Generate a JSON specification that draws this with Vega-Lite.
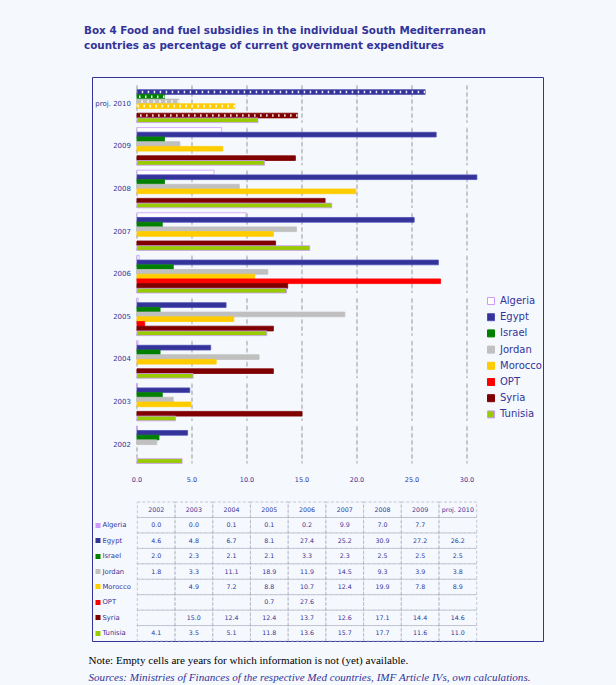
{
  "$schema": "https://vega.github.io/schema/vega-lite/v6.json",
  "width": 451,
  "height": 564,
  "autosize": {"type": "none"},
  "padding": {"left": 92, "top": 77, "right": 73, "bottom": 44},
  "background": "#F5F9FE",
  "title": {
    "text": ["Box 4 Food and fuel subsidies in the individual South Mediterranean", "countries as percentage of current government expenditures"],
    "anchor": "start",
    "dx": -4,
    "offset": 26,
    "font": "DejaVu Sans",
    "fontSize": 10.4,
    "fontWeight": "bold",
    "color": "#333399",
    "lineHeight": 14.5
  },
  "datasets": {
    "subs": [
      {"year": "2002", "country": "Algeria", "value": 0.0},
      {"year": "2002", "country": "Egypt", "value": 4.6},
      {"year": "2002", "country": "Israel", "value": 2.0},
      {"year": "2002", "country": "Jordan", "value": 1.8},
      {"year": "2002", "country": "Tunisia", "value": 4.1},
      {"year": "2003", "country": "Algeria", "value": 0.0},
      {"year": "2003", "country": "Egypt", "value": 4.8},
      {"year": "2003", "country": "Israel", "value": 2.3},
      {"year": "2003", "country": "Jordan", "value": 3.3},
      {"year": "2003", "country": "Morocco", "value": 4.9},
      {"year": "2003", "country": "Syria", "value": 15.0},
      {"year": "2003", "country": "Tunisia", "value": 3.5},
      {"year": "2004", "country": "Algeria", "value": 0.1},
      {"year": "2004", "country": "Egypt", "value": 6.7},
      {"year": "2004", "country": "Israel", "value": 2.1},
      {"year": "2004", "country": "Jordan", "value": 11.1},
      {"year": "2004", "country": "Morocco", "value": 7.2},
      {"year": "2004", "country": "Syria", "value": 12.4},
      {"year": "2004", "country": "Tunisia", "value": 5.1},
      {"year": "2005", "country": "Algeria", "value": 0.1},
      {"year": "2005", "country": "Egypt", "value": 8.1},
      {"year": "2005", "country": "Israel", "value": 2.1},
      {"year": "2005", "country": "Jordan", "value": 18.9},
      {"year": "2005", "country": "Morocco", "value": 8.8},
      {"year": "2005", "country": "OPT", "value": 0.7},
      {"year": "2005", "country": "Syria", "value": 12.4},
      {"year": "2005", "country": "Tunisia", "value": 11.8},
      {"year": "2006", "country": "Algeria", "value": 0.2},
      {"year": "2006", "country": "Egypt", "value": 27.4},
      {"year": "2006", "country": "Israel", "value": 3.3},
      {"year": "2006", "country": "Jordan", "value": 11.9},
      {"year": "2006", "country": "Morocco", "value": 10.7},
      {"year": "2006", "country": "OPT", "value": 27.6},
      {"year": "2006", "country": "Syria", "value": 13.7},
      {"year": "2006", "country": "Tunisia", "value": 13.6},
      {"year": "2007", "country": "Algeria", "value": 9.9},
      {"year": "2007", "country": "Egypt", "value": 25.2},
      {"year": "2007", "country": "Israel", "value": 2.3},
      {"year": "2007", "country": "Jordan", "value": 14.5},
      {"year": "2007", "country": "Morocco", "value": 12.4},
      {"year": "2007", "country": "Syria", "value": 12.6},
      {"year": "2007", "country": "Tunisia", "value": 15.7},
      {"year": "2008", "country": "Algeria", "value": 7.0},
      {"year": "2008", "country": "Egypt", "value": 30.9},
      {"year": "2008", "country": "Israel", "value": 2.5},
      {"year": "2008", "country": "Jordan", "value": 9.3},
      {"year": "2008", "country": "Morocco", "value": 19.9},
      {"year": "2008", "country": "Syria", "value": 17.1},
      {"year": "2008", "country": "Tunisia", "value": 17.7},
      {"year": "2009", "country": "Algeria", "value": 7.7},
      {"year": "2009", "country": "Egypt", "value": 27.2},
      {"year": "2009", "country": "Israel", "value": 2.5},
      {"year": "2009", "country": "Jordan", "value": 3.9},
      {"year": "2009", "country": "Morocco", "value": 7.8},
      {"year": "2009", "country": "Syria", "value": 14.4},
      {"year": "2009", "country": "Tunisia", "value": 11.6},
      {"year": "proj. 2010", "country": "Egypt", "value": 26.2},
      {"year": "proj. 2010", "country": "Israel", "value": 2.5},
      {"year": "proj. 2010", "country": "Jordan", "value": 3.8},
      {"year": "proj. 2010", "country": "Morocco", "value": 8.9},
      {"year": "proj. 2010", "country": "Syria", "value": 14.6},
      {"year": "proj. 2010", "country": "Tunisia", "value": 11.0}
    ],
    "grid": [
      {"t": 0, "year": ["proj. 2010", "2009", "2008", "2007", "2006", "2005", "2004", "2003", "2002"]},
      {"t": 5, "year": ["proj. 2010", "2009", "2008", "2007", "2006", "2005", "2004", "2003", "2002"]},
      {"t": 10, "year": ["proj. 2010", "2009", "2008", "2007", "2006", "2005", "2004", "2003", "2002"]},
      {"t": 15, "year": ["proj. 2010", "2009", "2008", "2007", "2006", "2005", "2004", "2003", "2002"]},
      {"t": 20, "year": ["proj. 2010", "2009", "2008", "2007", "2006", "2005", "2004", "2003", "2002"]},
      {"t": 25, "year": ["proj. 2010", "2009", "2008", "2007", "2006", "2005", "2004", "2003", "2002"]},
      {"t": 30, "year": ["proj. 2010", "2009", "2008", "2007", "2006", "2005", "2004", "2003", "2002"]}
    ],
    "cells": [
      {"country": "hdr", "year": ["2002", "2003", "2004", "2005", "2006", "2007", "2008", "2009", "proj. 2010"]},
      {"country": "Algeria", "year": ["2002", "2003", "2004", "2005", "2006", "2007", "2008", "2009", "proj. 2010"]},
      {"country": "Egypt", "year": ["2002", "2003", "2004", "2005", "2006", "2007", "2008", "2009", "proj. 2010"]},
      {"country": "Israel", "year": ["2002", "2003", "2004", "2005", "2006", "2007", "2008", "2009", "proj. 2010"]},
      {"country": "Jordan", "year": ["2002", "2003", "2004", "2005", "2006", "2007", "2008", "2009", "proj. 2010"]},
      {"country": "Morocco", "year": ["2002", "2003", "2004", "2005", "2006", "2007", "2008", "2009", "proj. 2010"]},
      {"country": "OPT", "year": ["2002", "2003", "2004", "2005", "2006", "2007", "2008", "2009", "proj. 2010"]},
      {"country": "Syria", "year": ["2002", "2003", "2004", "2005", "2006", "2007", "2008", "2009", "proj. 2010"]},
      {"country": "Tunisia", "year": ["2002", "2003", "2004", "2005", "2006", "2007", "2008", "2009", "proj. 2010"]}
    ]
  },
  "layer": [
    {
      "data": {"name": "subs"},
      "layer": [
        {
          "data": {"name": "grid"},
          "transform": [{"flatten": ["year"]}],
          "mark": {"type": "bar", "fill": "transparent", "stroke": "#A8A8A8", "strokeDash": [4, 3], "strokeWidth": 0.8},
          "encoding": {
            "x": {"field": "t", "type": "quantitative", "scale": {"domain": [-4.09, 36.91], "nice": false, "zero": false},
              "axis": {"orient": "bottom", "offset": 0, "labels": false, "ticks": false, "domain": false, "grid": false,
                "title": "Note: Empty cells are years for which information is not (yet) available.",
                "titleFont": "Liberation Serif", "titleFontSize": 11.1, "titleFontWeight": "normal", "titleColor": "#000000",
                "titleAnchor": "start", "titleAlign": "left", "titleX": -4, "titleBaseline": "top", "titlePadding": 13}},
            "x2": {"field": "t"},
            "y": {"field": "year", "type": "ordinal", "axis": null,
              "scale": {"domain": ["proj. 2010", "2009", "2008", "2007", "2006", "2005", "2004", "2003", "2002", "_1", "_2", "_3", "_4"], "paddingInner": 0.117, "paddingOuter": 0.178, "align": 0.526}}
          }
        },
        {
          "mark": {"type": "bar", "strokeWidth": 0.8},
          "encoding": {
            "x": {"field": "value", "type": "quantitative", "scale": {"domain": [-4.09, 36.91], "nice": false, "zero": false}},
            "y": {"field": "year", "type": "ordinal", "axis": null,
              "scale": {"domain": ["proj. 2010", "2009", "2008", "2007", "2006", "2005", "2004", "2003", "2002", "_1", "_2", "_3", "_4"], "paddingInner": 0.117, "paddingOuter": 0.178, "align": 0.526}},
            "yOffset": {"field": "country", "type": "nominal",
              "scale": {"domain": ["Algeria", "Egypt", "Israel", "Jordan", "Morocco", "OPT", "Syria", "Tunisia"], "paddingInner": 0, "paddingOuter": 0}},
            "fill": {"field": "country", "type": "nominal",
              "scale": {"domain": ["Algeria", "Egypt", "Israel", "Jordan", "Morocco", "OPT", "Syria", "Tunisia"],
                "range": ["#FFFFFF", "#333399", "#008000", "#C0C0C0", "#FFCC00", "#FF0000", "#800000", "#99CC00"]},
              "legend": {"orient": "none", "legendX": 394, "legendY": 219, "title": null, "symbolType": "square", "symbolSize": 49,
                "symbolStrokeWidth": 1, "labelFont": "DejaVu Sans", "labelFontSize": 10, "labelColor": "#333399",
                "rowPadding": 4.2, "labelOffset": 4, "padding": 0}},
            "stroke": {"field": "country", "type": "nominal",
              "scale": {"domain": ["Algeria", "Egypt", "Israel", "Jordan", "Morocco", "OPT", "Syria", "Tunisia"],
                "range": ["#CC99FF", "#4D4DB3", "#008000", "#C0C0C0", "#FFCC00", "#FF0000", "#800000", "#CC99FF"]},
              "legend": {"orient": "none", "legendX": 394, "legendY": 219, "title": null, "symbolType": "square", "symbolSize": 49,
                "symbolStrokeWidth": 1, "labelFont": "DejaVu Sans", "labelFontSize": 10, "labelColor": "#333399",
                "rowPadding": 4.2, "labelOffset": 4, "padding": 0}}
          }
        },
        {
          "transform": [{"filter": "datum.year == 'proj. 2010' && datum.country != 'Tunisia'"}],
          "mark": {"type": "rule", "color": "#FFFFFF", "strokeWidth": 2.6, "strokeDash": [1.5, 4.5], "opacity": 0.9},
          "encoding": {
            "x": {"field": "value", "type": "quantitative", "scale": {"domain": [-4.09, 36.91], "nice": false, "zero": false}},
            "x2": {"datum": 0},
            "y": {"field": "year", "type": "ordinal", "axis": null,
              "scale": {"domain": ["proj. 2010", "2009", "2008", "2007", "2006", "2005", "2004", "2003", "2002", "_1", "_2", "_3", "_4"], "paddingInner": 0.117, "paddingOuter": 0.178, "align": 0.526}},
            "yOffset": {"field": "country", "type": "nominal",
              "scale": {"domain": ["Algeria", "Egypt", "Israel", "Jordan", "Morocco", "OPT", "Syria", "Tunisia"], "paddingInner": 0, "paddingOuter": 0}}
          }
        },
        {
          "transform": [{"filter": "datum.country == 'Egypt'"}],
          "mark": {"type": "text", "align": "right", "baseline": "middle", "dx": -6, "font": "DejaVu Sans", "fontSize": 7, "color": "#333399"},
          "encoding": {
            "x": {"datum": 0, "type": "quantitative", "scale": {"domain": [-4.09, 36.91], "nice": false, "zero": false}},
            "y": {"field": "year", "type": "ordinal", "axis": null,
              "scale": {"domain": ["proj. 2010", "2009", "2008", "2007", "2006", "2005", "2004", "2003", "2002", "_1", "_2", "_3", "_4"], "paddingInner": 0.117, "paddingOuter": 0.178, "align": 0.526}},
            "text": {"field": "year"}
          }
        },
        {
          "data": {"name": "grid"},
          "transform": [{"flatten": ["year"]}, {"filter": "datum.year == '2002'"}],
          "mark": {"type": "text", "baseline": "middle", "dy": 17, "font": "DejaVu Sans", "fontSize": 6.5, "color": "#333399"},
          "encoding": {
            "x": {"field": "t", "type": "quantitative", "scale": {"domain": [-4.09, 36.91], "nice": false, "zero": false}},
            "y": {"field": "year", "type": "ordinal", "bandPosition": 1, "axis": null,
              "scale": {"domain": ["proj. 2010", "2009", "2008", "2007", "2006", "2005", "2004", "2003", "2002", "_1", "_2", "_3", "_4"], "paddingInner": 0.117, "paddingOuter": 0.178, "align": 0.526}},
            "text": {"field": "t", "type": "quantitative", "format": ".1f"}
          }
        }
      ]
    },
    {
      "data": {"name": "subs"},
      "layer": [
        {
          "data": {"name": "cells"},
          "transform": [{"flatten": ["year"]}],
          "mark": {"type": "rect", "fill": "transparent", "stroke": "#B8B8C8", "strokeDash": [3, 2], "strokeWidth": 0.8},
          "encoding": {
            "x": {"field": "year", "type": "ordinal",
              "scale": {"domain": ["L", "2002", "2003", "2004", "2005", "2006", "2007", "2008", "2009", "proj. 2010", "R"], "paddingInner": 0, "paddingOuter": 0.48, "align": 0.21},
              "axis": {"orient": "bottom", "offset": 17, "labels": false, "ticks": false, "domain": false, "grid": false,
                "title": "Sources: Ministries of Finances of the respective Med countries, IMF Article IVs, own calculations.",
                "titleFont": "Liberation Serif", "titleFontSize": 11.1, "titleFontWeight": "normal", "titleFontStyle": "italic", "titleColor": "#333399",
                "titleAnchor": "start", "titleAlign": "left", "titleX": -4, "titleBaseline": "top", "titlePadding": 13}},
            "y": {"field": "country", "type": "ordinal",
              "scale": {"domain": ["d01", "d02", "d03", "d04", "d05", "d06", "d07", "d08", "d09", "d10", "d11", "d12", "d13", "d14", "d15", "d16", "d17", "d18", "d19", "d20", "d21", "d22", "d23", "d24", "d25", "d26", "d27", "hdr", "Algeria", "Egypt", "Israel", "Jordan", "Morocco", "OPT", "Syria", "Tunisia"], "paddingInner": 0, "paddingOuter": 0.265, "align": 1},
              "axis": {"orient": "left", "title": null, "domain": false, "grid": false, "offset": -3, "ticks": true, "tickSize": -5, "tickWidth": 5, "tickCap": "butt",
                "tickColor": {"expr": "datum.value == 'Algeria' ? '#CC99FF' : datum.value == 'Egypt' ? '#333399' : datum.value == 'Israel' ? '#008000' : datum.value == 'Jordan' ? '#C0C0C0' : datum.value == 'Morocco' ? '#FFCC00' : datum.value == 'OPT' ? '#FF0000' : datum.value == 'Syria' ? '#800000' : datum.value == 'Tunisia' ? '#99CC00' : 'transparent'"},
                "labelAlign": "left", "labelPadding": -2, "labelFont": "DejaVu Sans", "labelFontSize": 6.8, "labelColor": "#333399", "labelOverlap": false,
                "labelExpr": "indexof(['Algeria','Egypt','Israel','Jordan','Morocco','OPT','Syria','Tunisia'], datum.value) >= 0 ? datum.value : ''"}}
          }
        },
        {
          "data": {"name": "cells"},
          "transform": [{"flatten": ["year"]}, {"filter": "datum.country == 'hdr'"}],
          "mark": {"type": "text", "baseline": "middle", "font": "DejaVu Sans", "fontSize": 6.3, "color": "#333399"},
          "encoding": {
            "x": {"field": "year", "type": "ordinal",
              "scale": {"domain": ["L", "2002", "2003", "2004", "2005", "2006", "2007", "2008", "2009", "proj. 2010", "R"], "paddingInner": 0, "paddingOuter": 0.48, "align": 0.21}},
            "y": {"field": "country", "type": "ordinal",
              "scale": {"domain": ["d01", "d02", "d03", "d04", "d05", "d06", "d07", "d08", "d09", "d10", "d11", "d12", "d13", "d14", "d15", "d16", "d17", "d18", "d19", "d20", "d21", "d22", "d23", "d24", "d25", "d26", "d27", "hdr", "Algeria", "Egypt", "Israel", "Jordan", "Morocco", "OPT", "Syria", "Tunisia"], "paddingInner": 0, "paddingOuter": 0.265, "align": 1}},
            "text": {"field": "year"}
          }
        },
        {
          "mark": {"type": "text", "baseline": "middle", "font": "DejaVu Sans", "fontSize": 6.3, "color": "#333399"},
          "encoding": {
            "x": {"field": "year", "type": "ordinal",
              "scale": {"domain": ["L", "2002", "2003", "2004", "2005", "2006", "2007", "2008", "2009", "proj. 2010", "R"], "paddingInner": 0, "paddingOuter": 0.48, "align": 0.21}},
            "y": {"field": "country", "type": "ordinal",
              "scale": {"domain": ["d01", "d02", "d03", "d04", "d05", "d06", "d07", "d08", "d09", "d10", "d11", "d12", "d13", "d14", "d15", "d16", "d17", "d18", "d19", "d20", "d21", "d22", "d23", "d24", "d25", "d26", "d27", "hdr", "Algeria", "Egypt", "Israel", "Jordan", "Morocco", "OPT", "Syria", "Tunisia"], "paddingInner": 0, "paddingOuter": 0.265, "align": 1}},
            "text": {"field": "value", "type": "quantitative", "format": ".1f"}
          }
        }
      ]
    }
  ],
  "resolve": {
    "scale": {"x": "independent", "y": "independent", "yOffset": "independent"},
    "axis": {"x": "independent", "y": "independent"}
  },
  "config": {
    "view": {"stroke": "#333399", "strokeWidth": 1},
    "font": "DejaVu Sans"
  }
}
